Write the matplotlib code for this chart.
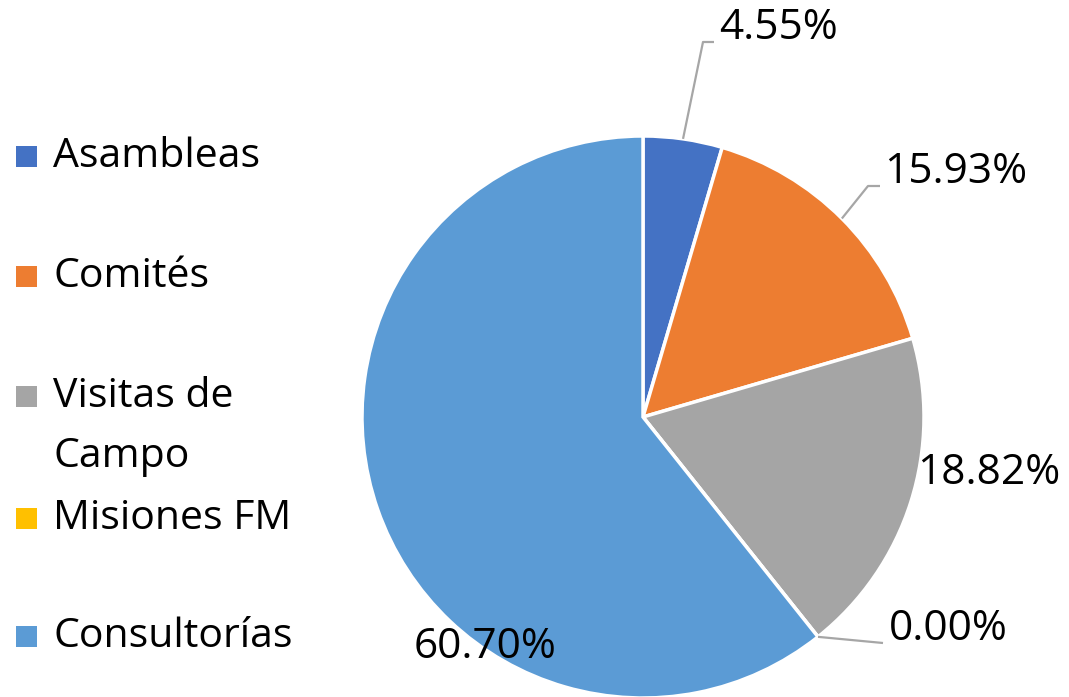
import numpy as np
import matplotlib
matplotlib.use("Agg")
import matplotlib.pyplot as plt
from matplotlib.patches import Rectangle

categories = ["Asambleas", "Comités", "Visitas de\nCampo", "Misiones FM", "Consultorías"]
values = [4.55, 15.93, 18.82, 0.00, 60.70]
colors = ["#4472C4", "#ED7D31", "#A5A5A5", "#FFC000", "#5B9BD5"]

W, H = 1069, 697
plt.rcParams['font.family'] = ['Open Sans', 'DejaVu Sans']
fig = plt.figure(figsize=(W / 100, H / 100), dpi=100)
ax = fig.add_axes([0, 0, 1, 1])
ax.set_xlim(0, W)
ax.set_ylim(0, H)
ax.set_aspect('equal')
ax.axis('off')

cx, cy, R = 643, H - 417, 281
wedges, _ = ax.pie(values, colors=colors, startangle=90, counterclock=False,
                   center=(cx, cy), radius=R, normalize=True,
                   wedgeprops=dict(edgecolor='white', linewidth=2.5))
ax.set_xlim(0, W)
ax.set_ylim(0, H)

# label placement (style): text center, optional leader elbow and end
label_pos = [(778, H - 28), (956, H - 172), (989, H - 473), (948, H - 629), (485, H - 647)]
leaders = [((703, H - 42), (714, H - 42)),
           ((868, H - 186), (880, H - 186)),
           None,
           ((883, H - 643), None),
           None]

for w, v, pos, ld in zip(wedges, values, label_pos, leaders):
    ax.text(pos[0], pos[1], f"{v:.2f}%", ha='center', va='center', fontsize=30.5, color='black')
    if ld is not None:
        mid = np.deg2rad((w.theta1 + w.theta2) / 2)
        ax_pt = (cx + R * np.cos(mid), cy + R * np.sin(mid))
        xs = [ax_pt[0], ld[0][0]]
        ys = [ax_pt[1], ld[0][1]]
        if ld[1] is not None:
            xs.append(ld[1][0]); ys.append(ld[1][1])
        ax.plot(xs, ys, color='#A6A6A6', lw=1.6, solid_capstyle='butt')

# legend drawn manually
leg_y = [H - 157, H - 277, H - 397, H - 519, H - 637]
for cat, col, y in zip(categories, colors, leg_y):
    ax.add_patch(Rectangle((16, y - 10), 21, 21, facecolor=col, edgecolor='none'))
    if '\n' not in cat:
        ax.text(53, y, cat, ha='left', va='center', fontsize=29.5, color='black')
    else:
        first, second = cat.split('\n')
        ax.text(53, y, first, ha='left', va='center', fontsize=29.5, color='black')
        ax.text(53, y - 60, second, ha='left', va='center', fontsize=29.5, color='black')

fig.savefig("out.png", dpi=100, facecolor='white')
